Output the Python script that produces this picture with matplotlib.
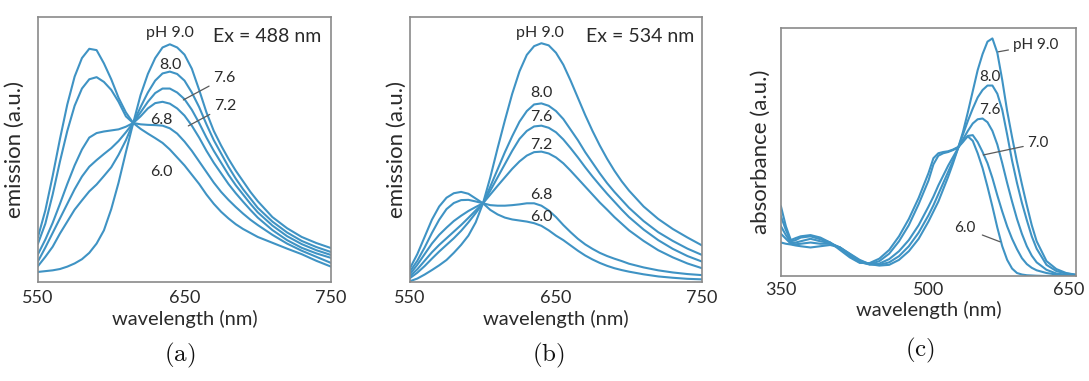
import matplotlib
matplotlib.use("Agg")
import matplotlib.pyplot as plt
from matplotlib.transforms import ScaledTranslation

plt.rcParams['font.family'] = ['Lato', 'DejaVu Sans']
plt.rcParams['mathtext.fontset'] = 'cm'

# emission spectra, wavelength grid for panels (a) and (b)
wl_em = [550, 555, 560, 565, 570, 575, 580, 585, 590, 595, 600, 605, 610, 615,
         620, 625, 630, 635, 640, 645, 650, 655, 660, 665, 670, 675, 680, 685,
         690, 695, 700, 710, 720, 730, 740, 750]

# (a) Ex = 488 nm
a_90 = [3.8, 4.1, 4.4, 4.9, 5.8, 7.0, 8.6, 11.0, 14.5, 19.5, 27.5, 37.5, 49.0, 60.0,
        70.5, 78.5, 84.5, 88.5, 89.7, 88.5, 85.8, 80.5, 72.5, 64.0, 57.0, 51.5, 46.5, 42.0,
        38.0, 34.0, 30.5, 24.5, 20.3, 17.0, 14.7, 12.8]
a_80 = [6.0, 9.5, 13.3, 18.3, 22.8, 27.3, 30.8, 34.2, 36.8, 40.0, 43.3, 48.0, 53.5, 60.0,
        66.0, 71.5, 76.0, 78.7, 79.4, 78.5, 76.0, 71.5, 66.0, 59.5, 53.5, 48.5, 43.5, 39.0,
        35.0, 31.5, 28.0, 22.8, 18.7, 15.5, 13.2, 11.3]
a_76 = [7.8, 13.0, 18.5, 24.0, 29.5, 35.0, 39.8, 43.5, 46.0, 48.3, 50.5, 53.2, 56.5, 60.0,
        64.0, 68.0, 71.3, 73.0, 73.0, 71.5, 69.0, 65.0, 60.0, 54.5, 49.5, 45.0, 40.5, 36.5,
        33.0, 29.5, 26.3, 21.3, 17.3, 14.3, 12.0, 10.2]
a_72 = [10.5, 16.0, 22.3, 29.5, 37.0, 44.0, 50.0, 54.5, 56.2, 56.8, 57.2, 57.6, 58.6, 60.0,
        62.5, 65.5, 67.5, 68.0, 67.3, 65.5, 62.8, 59.0, 54.5, 49.5, 45.0, 41.0, 37.0, 33.5,
        30.3, 27.2, 24.3, 19.6, 15.8, 12.9, 10.8, 9.1]
a_68 = [14.5, 22.0, 33.0, 45.5, 57.0, 66.5, 73.0, 76.5, 77.3, 75.5, 72.5, 68.0, 62.5, 60.0,
        59.5, 59.3, 59.2, 59.0, 58.0, 56.0, 53.0, 49.5, 45.5, 41.5, 37.5, 34.0, 31.0, 28.3,
        25.8, 23.5, 21.5, 17.8, 14.5, 11.8, 9.5, 7.2]
a_60 = [17.0, 27.0, 40.0, 54.0, 67.0, 77.5, 84.5, 88.0, 87.5, 82.5, 76.5, 69.5, 64.0, 60.0,
        57.8, 56.0, 54.3, 52.5, 50.0, 47.0, 44.0, 40.5, 37.0, 33.0, 29.5, 26.5, 24.0, 21.8,
        20.0, 18.5, 17.0, 14.8, 12.6, 10.5, 8.0, 5.8]

# (b) Ex = 534 nm
b_90 = [0.3, 1.3, 2.8, 4.5, 6.3, 8.3, 11.0, 14.0, 17.5, 22.5, 29.7, 39.5, 50.5, 61.0,
        71.0, 79.5, 85.7, 89.0, 90.1, 89.3, 86.5, 82.0, 76.0, 69.5, 63.0, 57.0, 51.5, 46.5,
        42.0, 38.0, 34.5, 28.5, 23.8, 20.0, 16.8, 13.8]
b_80 = [1.5, 3.5, 6.0, 8.8, 11.5, 14.0, 16.5, 19.3, 22.5, 26.0, 29.7, 36.0, 42.5, 49.0,
        55.0, 60.5, 64.5, 67.0, 67.4, 66.5, 64.5, 61.5, 57.5, 53.5, 49.0, 45.0, 41.0, 37.3,
        34.0, 31.0, 28.0, 23.0, 18.8, 15.5, 12.6, 10.2]
b_76 = [2.2, 4.8, 8.0, 11.2, 14.0, 16.5, 19.0, 21.5, 24.2, 27.0, 29.7, 34.5, 39.5, 44.5,
        49.5, 54.0, 57.0, 58.7, 59.0, 58.2, 56.5, 53.8, 50.5, 47.0, 43.3, 39.8, 36.5, 33.3,
        30.3, 27.3, 24.5, 19.8, 15.8, 12.5, 9.8, 7.7]
b_72 = [3.0, 6.5, 10.5, 14.5, 17.8, 20.5, 23.0, 25.0, 26.8, 28.3, 29.7, 33.0, 36.3, 39.5,
        42.7, 45.5, 47.7, 49.0, 49.2, 48.5, 47.0, 44.8, 42.0, 39.0, 36.0, 33.0, 30.0, 27.3,
        24.5, 22.0, 19.5, 15.5, 12.0, 9.3, 7.0, 5.2]
b_68 = [4.0, 8.0, 13.0, 18.5, 23.5, 27.5, 29.8, 30.9, 31.0, 30.4, 29.7, 29.0, 28.8, 28.8,
        29.0, 29.3, 29.7, 29.7, 28.8, 27.0, 24.5, 21.5, 18.8, 16.3, 14.2, 12.5, 11.0, 9.8,
        8.8, 7.9, 6.9, 5.5, 4.4, 3.6, 3.0, 2.6]
b_60 = [5.2, 10.5, 17.0, 23.5, 28.5, 31.8, 33.5, 34.0, 33.3, 31.5, 29.7, 27.2, 25.5, 24.3,
        23.6, 23.2, 22.8, 22.2, 21.2, 19.5, 17.5, 15.8, 13.8, 11.8, 10.0, 8.5, 7.2, 6.1,
        5.2, 4.5, 3.9, 2.9, 2.1, 1.6, 1.2, 1.0]

# (c) absorbance
wl_abs = [350, 355, 360, 365, 370, 380, 390, 400, 410, 420, 430, 440, 450, 460, 470,
          480, 490, 500, 505, 510, 515, 520, 525, 530, 535, 540, 545, 550, 555, 560,
          565, 570, 575, 580, 585, 590, 595, 600, 605, 610, 620, 630, 640, 650]
c_90 = [13.5, 13.0, 12.7, 12.3, 12.0, 11.5, 12.0, 12.5, 11.5, 9.0, 6.5, 4.8, 4.2, 4.5, 6.5,
        10.0, 15.0, 22.0, 26.0, 30.0, 35.0, 40.0, 45.5, 51.5, 58.0, 66.0, 74.5, 83.0, 89.5, 94.5,
        95.8, 90.0, 79.0, 66.5, 56.0, 46.0, 37.0, 28.5, 20.5, 14.0, 6.0, 2.8, 1.2, 0.5]
c_80 = [17.0, 15.0, 13.0, 12.8, 13.0, 13.5, 13.0, 13.0, 11.5, 8.8, 6.2, 4.8, 4.5, 5.5, 8.0,
        12.0, 17.5, 24.5, 28.5, 33.0, 37.5, 42.0, 46.5, 51.5, 57.0, 62.5, 67.5, 72.0, 75.0, 76.8,
        76.8, 73.5, 67.0, 57.0, 46.5, 37.5, 29.5, 22.5, 16.0, 11.0, 4.5, 2.0, 1.0, 0.5]
c_76 = [20.0, 16.5, 13.5, 13.5, 14.0, 15.0, 14.0, 13.3, 11.5, 8.5, 5.8, 4.6, 5.0, 6.8, 10.0,
        14.5, 20.5, 28.0, 32.0, 36.5, 40.5, 44.5, 48.0, 51.5, 55.0, 58.5, 61.5, 63.2, 63.5, 62.0,
        58.5, 53.0, 45.5, 37.5, 30.0, 23.0, 17.0, 12.0, 8.2, 5.5, 2.5, 1.0, 0.5, 0.3]
c_70 = [24.0, 18.5, 14.0, 14.5, 15.5, 16.0, 14.8, 13.5, 11.0, 8.0, 5.5, 4.8, 6.0, 9.0, 14.0,
        20.5, 29.0, 38.5, 45.0, 48.5, 49.5, 50.0, 50.8, 51.8, 54.0, 56.5, 56.8, 54.0, 50.0, 45.5,
        39.5, 32.5, 26.0, 20.0, 15.0, 10.8, 7.2, 4.8, 3.3, 2.3, 1.2, 0.6, 0.4, 0.3]
c_60 = [28.0, 20.0, 14.5, 15.3, 16.0, 16.5, 15.5, 13.5, 10.5, 7.5, 5.3, 5.2, 7.0, 10.5, 16.0,
        23.0, 31.5, 41.5, 47.5, 49.5, 50.0, 50.3, 51.0, 52.0, 54.5, 56.3, 54.5, 49.5, 43.5, 36.0,
        28.0, 19.5, 12.0, 6.5, 3.0, 1.2, 0.6, 0.3, 0.2, 0.1, 0.0, 0.0, 0.0, 0.0]

line_color = '#3f93c4'
frame_color = '#8a8a8a'
text_color = '#2a2a2a'
lead_color = '#5a5a5a'


def style_axes(ax, xlim, xticks, ylabel, tickpad, xlab_y, ylab_x):
    ax.set_xlim(xlim)
    ax.set_ylim(0, 100)
    ax.set_xticks(xticks)
    ax.set_yticks([])
    ax.tick_params(axis='x', length=0, pad=tickpad, labelsize=13, labelcolor=text_color)
    for s in ax.spines.values():
        s.set_color(frame_color)
        s.set_linewidth(1.2)
    ax.set_xlabel('wavelength (nm)', fontsize=14.5, color=text_color)
    ax.set_ylabel(ylabel, fontsize=16, color=text_color)
    ax.xaxis.set_label_coords(0.5, xlab_y)
    ax.yaxis.set_label_coords(ylab_x, 0.5)


def leader(ax, text, xy, xytext, fs, ha='left', shrink=1):
    ax.annotate(text, xy=xy, xytext=xytext, fontsize=fs, ha=ha, va='center', color=text_color,
                arrowprops=dict(arrowstyle='-', color=lead_color, lw=0.9, shrinkA=shrink, shrinkB=0))


fig = plt.figure(figsize=(10.89, 3.81), dpi=100)

# (a)
ax1 = fig.add_axes([0.03489, 0.25984, 0.26905, 0.69554])
for y in [a_90, a_80, a_76, a_72, a_68, a_60]:
    ax1.plot(wl_em, y, color=line_color, lw=1.5)
style_axes(ax1, (550, 750), [550, 650, 750], 'emission (a.u.)', 6, -0.105, -0.046)
ax1.text(640.1, 93.8, 'pH 9.0', fontsize=11.5, ha='center', va='center', color=text_color)
ax1.text(706.1, 92.6, 'Ex = 488 nm', fontsize=14, ha='center', va='center', color=text_color)
ax1.text(640.1, 81.9, '8.0', fontsize=11.5, ha='center', va='center', color=text_color)
ax1.text(634.4, 61.1, '6.8', fontsize=11.5, ha='center', va='center', color=text_color)
ax1.text(634.4, 41.6, '6.0', fontsize=11.5, ha='center', va='center', color=text_color)
leader(ax1, '7.6', (649.2, 68.7), (669.5, 77.0), 11.5)
leader(ax1, '7.2', (652.6, 58.9), (670.0, 66.3), 11.5)

# (b)
ax2 = fig.add_axes([0.37649, 0.25984, 0.26814, 0.69554])
for y in [b_90, b_80, b_76, b_72, b_68, b_60]:
    ax2.plot(wl_em, y, color=line_color, lw=1.5)
style_axes(ax2, (550, 750), [550, 650, 750], 'emission (a.u.)', 6, -0.105, -0.012)
ax2.text(638.8, 93.8, 'pH 9.0', fontsize=11.5, ha='center', va='center', color=text_color)
ax2.text(707.3, 92.6, 'Ex = 534 nm', fontsize=14, ha='center', va='center', color=text_color)
for lab, yv in [('8.0', 71.2), ('7.6', 62.2), ('7.2', 51.7), ('6.8', 32.8), ('6.0', 24.4)]:
    ax2.text(639.9, yv, lab, fontsize=11.5, ha='center', va='center', color=text_color)

# (c)
ax3 = fig.add_axes([0.71717, 0.27559, 0.27089, 0.65092])
for y in [c_90, c_80, c_76, c_70, c_60]:
    ax3.plot(wl_abs, y, color=line_color, lw=1.5)
style_axes(ax3, (350, 650), [350, 500, 650], 'absorbance (a.u.)', 4, -0.1, -0.036)
# keep the last tick label inside the figure edge
last = ax3.get_xticklabels()[-1]
last.set_transform(last.get_transform() + ScaledTranslation(-5 / 72, 0, fig.dpi_scale_trans))
leader(ax3, 'pH 9.0', (571.0, 90.4), (585.5, 93.1), 11)
ax3.text(562.5, 80.4, '8.0', fontsize=11, ha='center', va='center', color=text_color)
ax3.text(562.5, 66.9, '7.6', fontsize=11, ha='center', va='center', color=text_color)
leader(ax3, '7.0', (555.7, 48.8), (600.5, 53.5), 11)
leader(ax3, '6.0', (572.7, 13.8), (537.1, 19.2), 11, ha='center', shrink=3)

# sub-figure captions
for xc, yc, cap in [(180, 355, '(a)'), (548, 355, '(b)'), (920, 350, '(c)')]:
    fig.text(xc / 1089, 1 - yc / 381, r'$\mathrm{' + cap + '}$', fontsize=18,
             ha='center', va='center', color='#111111')

fig.savefig('out.png', dpi=100)
